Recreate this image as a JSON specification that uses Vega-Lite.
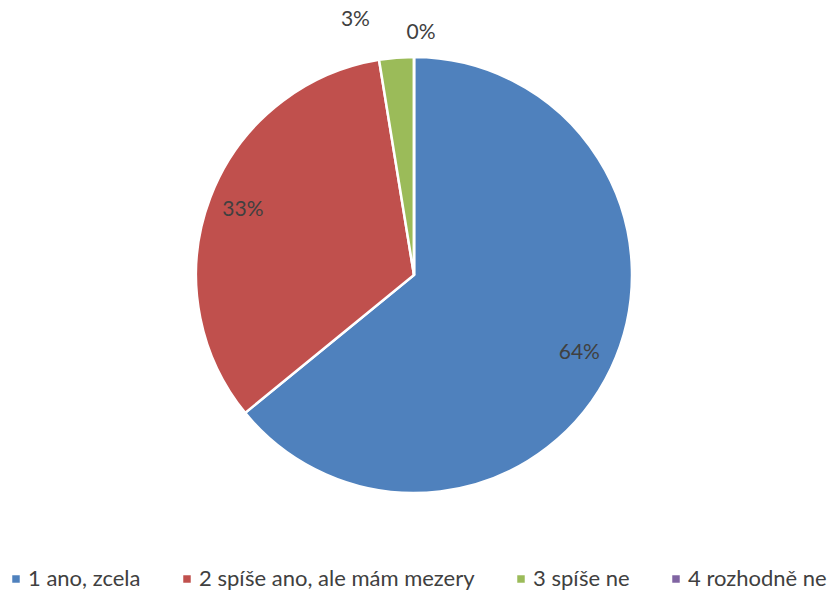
{
  "$schema": "https://vega.github.io/schema/vega-lite/v6.json",
  "autosize": "none",
  "width": 828,
  "height": 550,
  "padding": {"left": 0, "top": 0, "right": 4, "bottom": 45},
  "background": "white",
  "data": {
    "values": [
      {"category": "1 ano, zcela", "count": 25, "label": "64%", "order": 1},
      {"category": "2 spíše ano, ale mám mezery", "count": 13, "label": "33%", "order": 2},
      {"category": "3 spíše ne", "count": 1, "label": "3%", "order": 3},
      {"category": "4 rozhodně ne", "count": 0, "label": "0%", "order": 4}
    ]
  },
  "encoding": {
    "theta": {"field": "count", "type": "quantitative", "stack": true},
    "order": {"field": "order", "type": "quantitative", "sort": "ascending"}
  },
  "layer": [
    {
      "mark": {"type": "arc", "outerRadius": 218, "stroke": "white", "strokeWidth": 2.5},
      "encoding": {
        "color": {
          "field": "category",
          "type": "nominal",
          "scale": {
            "domain": ["1 ano, zcela", "2 spíše ano, ale mám mezery", "3 spíše ne", "4 rozhodně ne"],
            "range": ["#4F81BD", "#C0504D", "#9BBB59", "#8064A2"]
          },
          "legend": {
            "title": null,
            "orient": "none",
            "direction": "horizontal",
            "legendX": 5,
            "legendY": 568,
            "symbolType": "square",
            "symbolSize": 56,
            "symbolStrokeWidth": 0,
            "labelFont": "Lato",
            "labelFontSize": 22,
            "labelColor": "#404040",
            "labelOffset": 1,
            "columnPadding": 35,
            "labelLimit": 400
          }
        }
      }
    },
    {
      "mark": {"type": "text", "radius": 183, "font": "Lato", "fontSize": 21, "color": "#404040", "baseline": "middle", "align": "center"},
      "encoding": {
        "text": {"condition": {"test": "datum.count >= 5", "field": "label"}, "value": ""}
      }
    },
    {
      "mark": {"type": "text", "radius": 256, "dx": -38, "font": "Lato", "fontSize": 21, "color": "#404040", "baseline": "middle", "align": "center"},
      "encoding": {
        "text": {"condition": {"test": "datum.category === '3 spíše ne'", "field": "label"}, "value": ""}
      }
    },
    {
      "mark": {"type": "text", "radius": 242, "dx": 7, "font": "Lato", "fontSize": 21, "color": "#404040", "baseline": "middle", "align": "center"},
      "encoding": {
        "text": {"condition": {"test": "datum.category === '4 rozhodně ne'", "field": "label"}, "value": ""}
      }
    }
  ]
}
